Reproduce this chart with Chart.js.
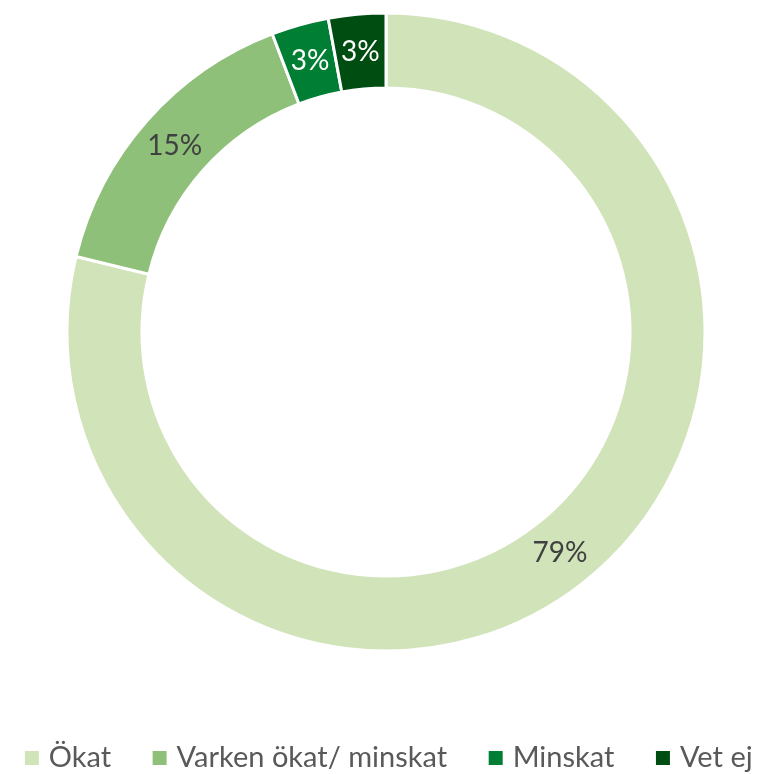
<!DOCTYPE html>
<html>
<head>
<meta charset="utf-8">
<script src="https://cdn.jsdelivr.net/npm/chart.js@4"></script>
<style>
  html, body { margin: 0; padding: 0; background: #fff; overflow: hidden; width: 761px; height: 774px; }
  /* canvas is a bit larger than the page and shifted so the ring and legend land where they should */
  canvas { display: block; margin-left: -19px; margin-top: -43px; }
</style>
</head>
<body>
<canvas id="donut" width="810" height="817"></canvas>
<script>
const CATEGORIES = ['Ökat', 'Varken ökat/ minskat', 'Minskat', 'Vet ej'];
const SHARES = [78.8, 15.4, 2.9, 2.9];
const COLORS = ['#d1e3b9', '#8fc07a', '#007e33', '#004d12'];
const LABEL_COLORS = ['#404040', '#404040', '#ffffff', '#ffffff'];

const FONT = 'Lato, "Open Sans", sans-serif';

// legend marker: 14px square placed inside a wider image so the
// gap to the text is about 10px, like in the original
function legendMarker(color) {
  const c = document.createElement('canvas');
  c.width = 30;
  c.height = 14;
  const g = c.getContext('2d');
  g.fillStyle = color;
  g.fillRect(13, 0, 14, 14);
  return c;
}
const MARKERS = COLORS.map(legendMarker);

// percentage labels in the middle of each ring segment
const sliceLabels = {
  id: 'sliceLabels',
  afterDatasetsDraw(chart) {
    const ctx = chart.ctx;
    const meta = chart.getDatasetMeta(0);
    ctx.save();
    ctx.font = '28px ' + FONT;
    ctx.textAlign = 'center';
    ctx.textBaseline = 'middle';
    meta.data.forEach((arc, i) => {
      const pos = arc.tooltipPosition();
      ctx.fillStyle = LABEL_COLORS[i];
      ctx.fillText(Math.round(SHARES[i]) + '%', pos.x, pos.y);
    });
    ctx.restore();
  }
};

new Chart(document.getElementById('donut'), {
  type: 'doughnut',
  data: {
    labels: CATEGORIES,
    datasets: [{
      data: SHARES,
      backgroundColor: COLORS,
      borderColor: '#ffffff',
      borderWidth: 3,
      radius: 319
    }]
  },
  options: {
    responsive: false,
    animation: false,
    cutout: '76.5%',
    plugins: {
      tooltip: { enabled: false },
      legend: {
        position: 'bottom',
        maxHeight: 67,
        labels: {
          usePointStyle: true,
          pointStyleWidth: 15,
          boxHeight: 14,
          padding: 36,
          color: '#595959',
          font: { family: FONT, size: 29 },
          generateLabels(chart) {
            const items = Chart.overrides.doughnut.plugins.legend.labels.generateLabels(chart);
            return items.map((item, i) => Object.assign(item, { pointStyle: MARKERS[i], lineWidth: 0 }));
          }
        }
      }
    }
  },
  plugins: [sliceLabels]
});
</script>
</body>
</html>
